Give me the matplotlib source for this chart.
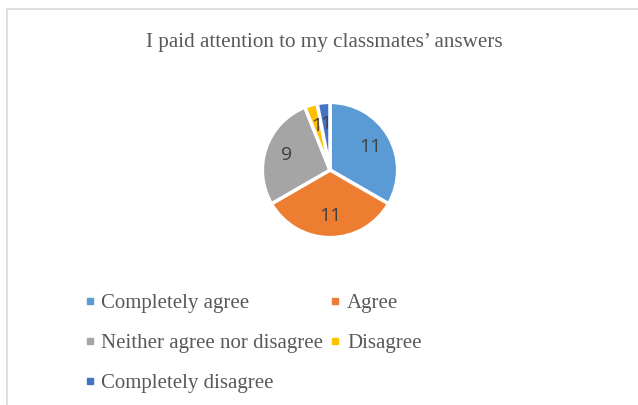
import matplotlib.pyplot as plt
from matplotlib.patches import Rectangle
from matplotlib.lines import Line2D

labels = ['Completely agree', 'Agree', 'Neither agree nor disagree',
          'Disagree', 'Completely disagree']
values = [11, 11, 9, 1, 1]
colors = ['#5B9BD5', '#ED7D31', '#A5A5A5', '#FFC000', '#4472C4']
title = 'I paid attention to my classmates\u2019 answers'

W, H = 638, 405
fig = plt.figure(figsize=(W / 100, H / 100), dpi=100)

# chart area border (only left/top visible in the crop)
fig.patches.append(Rectangle((7 / W, -0.1), 1.2, 1 - 9 / H + 0.1,
                             transform=fig.transFigure, fill=False,
                             edgecolor='#D9D9D9', linewidth=1.2))

fig.text(324 / W, 1 - 43 / H, title, ha='center', va='center',
         family='Liberation Serif', fontsize=15.2, color='#595959')

r = 69
cx, cy = 330, 170
ax = fig.add_axes([(cx - r) / W, 1 - (cy + r) / H, 2 * r / W, 2 * r / H])
wedges, texts = ax.pie(values, colors=colors, startangle=90, counterclock=False,
                       labels=[str(v) for v in values], labeldistance=0.68,
                       wedgeprops=dict(edgecolor='white', linewidth=2.5))
for t in texts:
    t.set_ha('center')
    t.set_va('center')
    t.set_fontsize(14)
    t.set_color('#404040')
    t.set_family('Open Sans')
ax.set_aspect('equal')
ax.set_xlim(-1.02, 1.02)
ax.set_ylim(-1.02, 1.02)

# legend, laid out row by row as in the original
order = [0, 2, 4, 1, 3]
handles = [Line2D([], [], marker='s', linestyle='none', markersize=4.5,
                  markerfacecolor=colors[i], markeredgecolor=colors[i])
           for i in order]
leg = fig.legend(handles, [labels[i] for i in order], ncol=2,
                 loc='upper left', bbox_to_anchor=(76 / W, 1 - 285 / H),
                 frameon=False, prop=dict(family='Liberation Serif', size=15),
                 labelcolor='#595959', handlelength=0.5, handletextpad=0.3,
                 labelspacing=0.98, columnspacing=0.35, borderaxespad=0)

fig.savefig('out.png', dpi=100)
